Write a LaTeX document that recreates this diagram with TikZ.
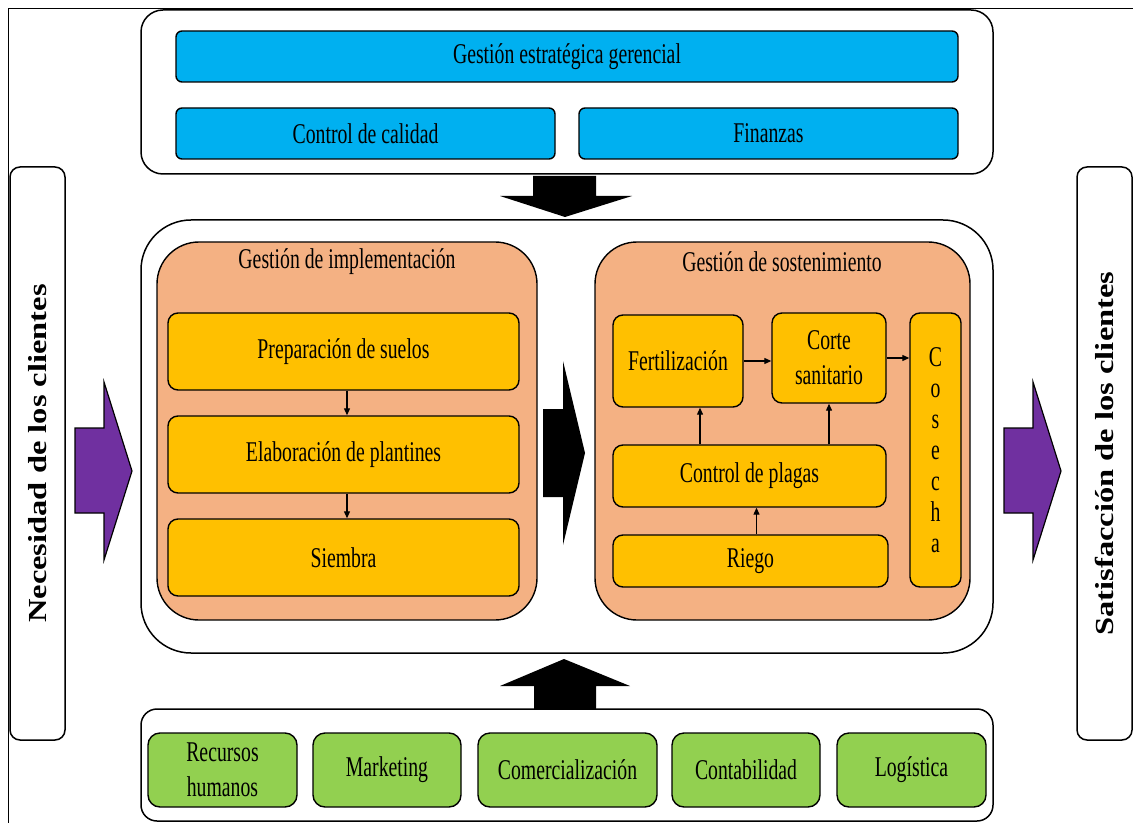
\documentclass[tikz,border=0pt]{standalone}
\usepackage{fontspec}
\setmainfont[FakeStretch=0.69]{Liberation Serif}
\newfontfamily\sidefont{Liberation Serif}
\usepackage{graphicx}
\definecolor{skyblue}{HTML}{00B0F0}
\definecolor{peach}{HTML}{F4B183}
\definecolor{amber}{HTML}{FFC000}
\definecolor{leafgreen}{HTML}{92D050}
\definecolor{newpurple}{HTML}{7030A0}
\usetikzlibrary{arrows.meta, positioning, calc}

\tikzset{
  panel/.style = {draw, line width = 0.75pt, rounded corners = #1, inner sep = 0pt},
  panel/.default = 10pt,
  box/.style = {draw, line width = 0.7pt, align = center, inner sep = 0pt},
  bluebox/.style = {box, fill = skyblue, rounded corners = 3pt, minimum height = 25.5pt},
  yellowbox/.style = {box, fill = amber, rounded corners = 5pt},
  greenbox/.style = {box, fill = leafgreen, rounded corners = 6pt, minimum height = 37pt},
  peachbox/.style = {box, fill = peach, rounded corners = 21pt, minimum height = 189pt},
  sidebox/.style = {draw, line width = 0.75pt, rounded corners = 5pt, rotate = 90, inner sep = 0pt,
    minimum width = 286.5pt, minimum height = 27.5pt,
    font = \sidefont\bfseries\fontsize{16.25}{18}\selectfont},
  flow/.style = {-{Triangle[length = 3.5pt, width = 3pt]}, line width = 0.6pt},
  sidearrow/.style = {fill = newpurple, draw = black, line width = 0.6pt}
}

\begin{document}
\begin{tikzpicture}[x = 0.5pt, y = -0.5pt, font = \fontsize{14.3}{17.5}\selectfont]
\useasboundingbox (0,0) rectangle (1133,823);
\draw[line width = 0.5pt] (8,823) |- (1133,9);

% top
\node[panel = 11pt, minimum width = 426pt, minimum height = 82pt] (top) at (567,92) {};
\node[bluebox, minimum width = 391pt] (est) at (567,56.5) {Gestión estratégica gerencial};
\node[bluebox, minimum width = 189.5pt] (cal) at (365.5,133.5) {Control de calidad};
\node[bluebox, minimum width = 189.5pt] (fin) at (768.5,133.5) {Finanzas};
\fill (533,176) -- (596,176) -- (596,196) -- (632,196) -- (565,217) -- (500,196) -- (533,196) -- cycle;

% middle
\node[panel = 25pt, minimum width = 426pt, minimum height = 216.5pt] (mid) at (567,436.5) {};
\node[peachbox, minimum width = 190pt] (impl) at (347,431) {};
\node[peachbox, minimum width = 187.5pt] (sost) at (782.5,431) {};
\node (implt) at (347,262) {Gestión de implementación};
\node (sostt) at (782,262) {Gestión de sostenimiento};

\node[yellowbox, minimum width = 175.5pt, minimum height = 38.5pt] (prep) at (343.5,351.5) {Preparación de suelos};
\node[yellowbox, minimum width = 175.5pt, minimum height = 38.5pt] (elab) at (343.5,454.5) {Elaboración de plantines};
\node[yellowbox, minimum width = 175.5pt, minimum height = 38.5pt] (siem) at (343.5,557.5) {Siembra};
\coordinate (p1) at ([xshift = 1.75pt]prep.south);
\coordinate (p2) at ([xshift = 1.75pt]elab.south);
\draw[flow] (p1) -- (p1 |- elab.north);
\draw[flow] (p2) -- (p2 |- siem.north);

\fill (543,409) -- (563,409) -- (563,361) -- (585,453) -- (563,545) -- (563,497) -- (543,497) -- cycle;

\node[yellowbox, minimum width = 65pt, minimum height = 46pt] (fert) at (678,361) {Fertilización};
\node[yellowbox, minimum width = 57pt, minimum height = 45pt] (corte) at (829,358) {Corte\\sanitario};
\node[yellowbox, minimum width = 25.5pt, minimum height = 137pt, font = \fontsize{14.3}{15.5}\selectfont] (cos) at (935.5,450) {C\\o\\s\\e\\c\\h\\a};
\node[yellowbox, minimum width = 136.5pt, minimum height = 31pt] (plag) at (749.5,476) {Control de plagas};
\node[yellowbox, minimum width = 137.5pt, minimum height = 26pt] (riego) at (750.5,561) {Riego};
\coordinate (f1) at ([xshift = 11pt]fert.south);
\coordinate (r1) at ([xshift = 3pt]riego.north);
\draw[flow] (fert.east) -- (fert.east -| corte.west);
\draw[flow] (corte.east) -- (corte.east -| cos.west);
\draw[flow] (f1 |- plag.north) -- (f1);
\draw[flow] (corte.south |- plag.north) -- (corte.south);
\draw[flow] (r1) -- (r1 |- plag.south);

% bottom
\fill (534,709) -- (596,709) -- (596,686) -- (630,686) -- (564,659) -- (500,686) -- (534,686) -- cycle;
\node[panel = 8pt, minimum width = 426pt, minimum height = 56pt] (bot) at (567,765) {};
\node[greenbox, minimum width = 74.5pt] (rrhh) at (222.5,770) {Recursos\\humanos};
\node[greenbox, minimum width = 74pt] (mark) at (387,770) {Marketing};
\node[greenbox, minimum width = 89.5pt] (comer) at (567.5,770) {Comercialización};
\node[greenbox, minimum width = 74pt] (conta) at (746,770) {Contabilidad};
\node[greenbox, minimum width = 74.5pt] (logis) at (911.5,770) {Logística};

% clientes
\node[sidebox] (need) at (37.5,453.5) {\scalebox{1}[0.8]{Necesidad de los clientes}};
\node[sidebox] (satis) at (1104.5,453.5) {\scalebox{1}[0.8]{Satisfacción de los clientes}};
\foreach \px in {75, 1004}
	\draw[sidearrow] (\px,428) -- (\px+29,428) -- (\px+29,382) -- (\px+57,471) -- (\px+29,560) -- (\px+29,513) -- (\px,513) -- cycle;
\end{tikzpicture}
\end{document}
